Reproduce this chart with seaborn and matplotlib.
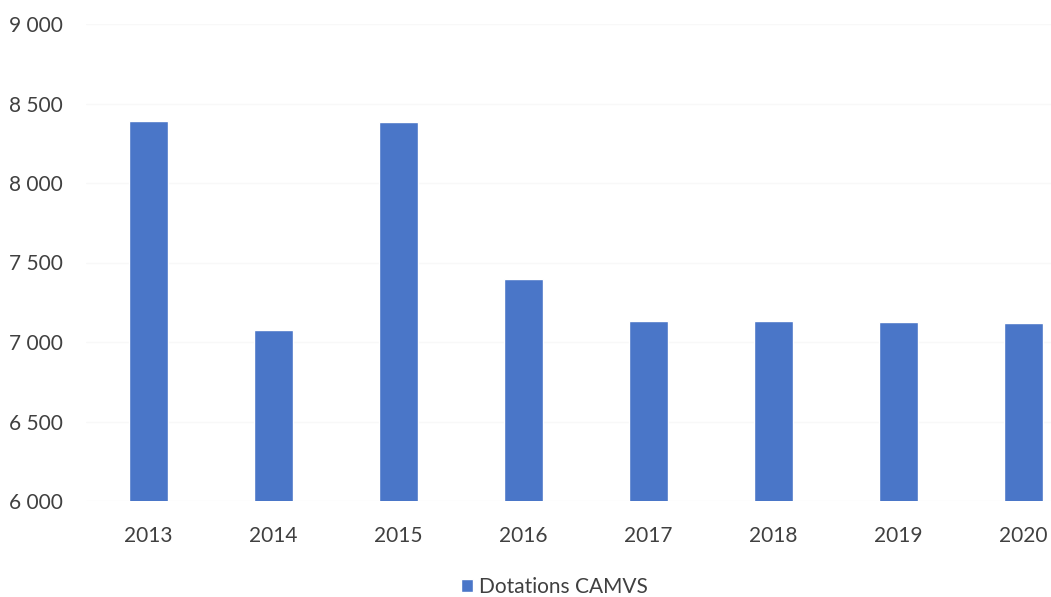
import pandas as pd
import numpy as np
import matplotlib.pyplot as plt
import seaborn as sns
from matplotlib.ticker import FuncFormatter

# Data
years = ['2013', '2014', '2015', '2016', '2017', '2018', '2019', '2020']
dotations = [8390, 7075, 8385, 7396, 7132, 7130, 7126, 7122]

df = pd.DataFrame({'Année': years, 'Dotations CAMVS': dotations})

sns.set_style('white')
plt.rcParams['font.family'] = ['Lato', 'DejaVu Sans']

fig = plt.figure(figsize=(10.51, 5.97), dpi=100)
ax = fig.add_axes([86 / 1051, 96 / 597, 965 / 1051, 477 / 597])

sns.barplot(data=df, x='Année', y='Dotations CAMVS', color='#4A76C8', saturation=1,
            width=0.31, ax=ax, label='Dotations CAMVS', zorder=3)

ax.set_ylim(6000, 9000)
ax.set_xlim(-0.5, 7.22)
ax.set_yticks(np.arange(6000, 9001, 500))
ax.yaxis.set_major_formatter(FuncFormatter(lambda v, p: f'{int(v):,}'.replace(',', ' ')))
ax.grid(axis='y', color='#f8f8f8', linewidth=1, zorder=0)
for s in ax.spines.values():
    s.set_visible(False)
ax.set_xlabel('')
ax.set_ylabel('')
ax.tick_params(axis='both', labelsize=15, colors='#404040', length=0)
ax.tick_params(axis='y', pad=17)
ax.tick_params(axis='x', pad=18)

ax.legend(loc='lower center', bbox_to_anchor=(0.5 - 14 / 965, -0.24), frameon=False,
          fontsize=15, handlelength=0.55, handleheight=0.55, handletextpad=0.3, labelcolor='#404040')

fig.savefig('out.png', dpi=100)
